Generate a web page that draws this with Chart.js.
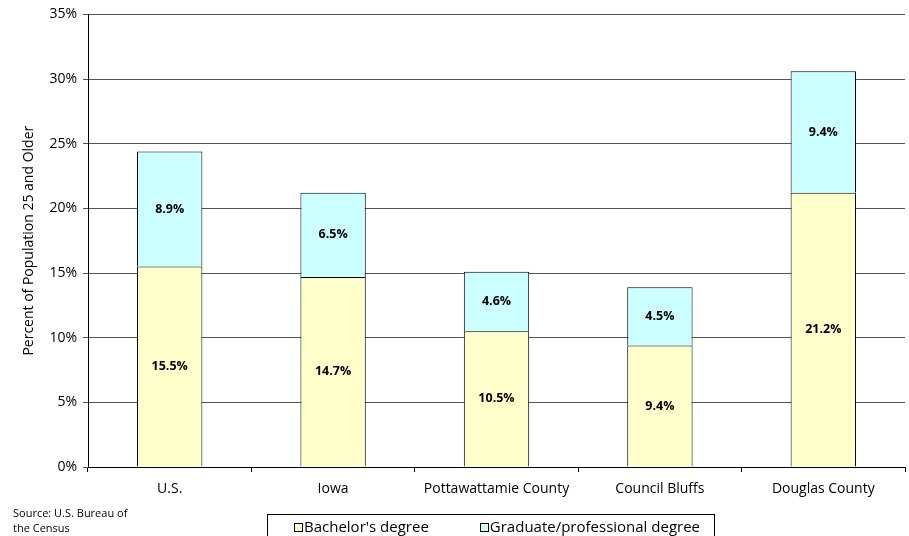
<!DOCTYPE html>
<html>
<head>
<meta charset="utf-8">
<script src="https://cdn.jsdelivr.net/npm/chart.js@4"></script>
<style>
  html, body { margin: 0; padding: 0; background: #fff; overflow: hidden; }
  #wrap { width: 909px; height: 536px; }
</style>
</head>
<body>
<div id="wrap"><canvas id="eduChart" width="909" height="536"></canvas></div>
<script>
const places = ["U.S.", "Iowa", "Pottawattamie County", "Council Bluffs", "Douglas County"];
const bachelors = [15.5, 14.7, 10.5, 9.4, 21.2];
const graduate = [8.9, 6.5, 4.6, 4.5, 9.4];
const yTicks = [0, 5, 10, 15, 20, 25, 30, 35];
const sourceNote = ["Source: U.S. Bureau of", "the Census"];

const FONT = "'Open Sans', 'Noto Sans', sans-serif";

// value labels in the middle of each stacked piece
const segLabels = {
  id: "segLabels",
  afterDatasetsDraw(chart) {
    const ctx = chart.ctx;
    ctx.save();
    ctx.font = "bold 12.5px " + FONT;
    ctx.fillStyle = "#000";
    ctx.textAlign = "center";
    ctx.textBaseline = "middle";
    chart.data.datasets.forEach((ds, i) => {
      chart.getDatasetMeta(i).data.forEach((bar, j) => {
        const p = bar.getProps(["x", "y", "base"], true);
        ctx.fillText(ds.data[j].toFixed(1) + "%", p.x, (p.y + p.base) / 2);
      });
    });
    ctx.restore();
  }
};

// boxed legend + source note at the bottom
const bottomStuff = {
  id: "bottomStuff",
  afterDraw(chart) {
    const ctx = chart.ctx;
    const area = chart.chartArea;
    ctx.save();
    ctx.font = "15px " + FONT;
    ctx.textBaseline = "middle";
    const box = 8, gap = 2, spacing = 51, padL = 27, padR = 14;
    const items = chart.data.datasets.map(ds => ({
      text: ds.label, color: ds.backgroundColor,
      w: box + gap + ctx.measureText(ds.label).width
    }));
    const total = items.reduce((s, it) => s + it.w, 0) + spacing * (items.length - 1);
    const cx = (area.left + area.right) / 2 + 1;
    let x = Math.round(cx - total / 2);
    const y = 528;
    ctx.strokeStyle = "#000";
    ctx.lineWidth = 1;
    ctx.strokeRect(x - padL + 0.5, 514.5, Math.round(total + padL + padR), 30);
    items.forEach(it => {
      ctx.fillStyle = it.color;
      ctx.fillRect(Math.round(x) + 0.5, y - 4.5, box, box);
      ctx.strokeRect(Math.round(x) + 0.5, y - 4.5, box, box);
      ctx.fillStyle = "#000";
      ctx.textAlign = "left";
      ctx.fillText(it.text, x + box + gap, y);
      x += it.w + spacing;
    });
    ctx.font = "11px " + FONT;
    sourceNote.forEach((line, i) => ctx.fillText(line, 13, 514 + i * 14.5));
    ctx.restore();
  }
};

new Chart(document.getElementById("eduChart"), {
  type: "bar",
  data: {
    labels: places,
    datasets: [
      { label: "Bachelor's degree", data: bachelors, backgroundColor: "#FFFFCC", borderColor: "#000", borderWidth: 1 },
      { label: "Graduate/professional degree", data: graduate, backgroundColor: "#CCFFFF", borderColor: "#000", borderWidth: 1 }
    ]
  },
  options: {
    responsive: false,
    animation: false,
    layout: { padding: { top: 14, right: 4, left: 0, bottom: 0 } },
    datasets: { bar: { barPercentage: 0.4, categoryPercentage: 1 } },
    plugins: { legend: { display: false }, tooltip: { enabled: false } },
    scales: {
      x: {
        stacked: true,
        afterFit: s => { s.height = 69; },
        border: { color: "#000", width: 1 },
        grid: { drawOnChartArea: false, color: "#000", tickLength: 5, offset: true },
        ticks: { color: "#000", font: { family: FONT, size: 14 }, padding: 9, maxRotation: 0 }
      },
      y: {
        stacked: true,
        min: 0,
        max: 35,
        afterFit: s => { s.width = 88; },
        afterBuildTicks: s => { s.ticks = yTicks.map(v => ({ value: v })); },
        border: { color: "#000", width: 1 },
        grid: { color: "#555", tickLength: 5 },
        ticks: { color: "#000", font: { family: FONT, size: 14 }, padding: 6, callback: v => v + "%" },
        title: {
          display: true,
          text: "Percent of Population 25 and Older",
          color: "#000",
          font: { family: FONT, size: 14 },
          padding: { top: 21, bottom: 0 }
        }
      }
    }
  },
  plugins: [segLabels, bottomStuff]
});
</script>
</body>
</html>
